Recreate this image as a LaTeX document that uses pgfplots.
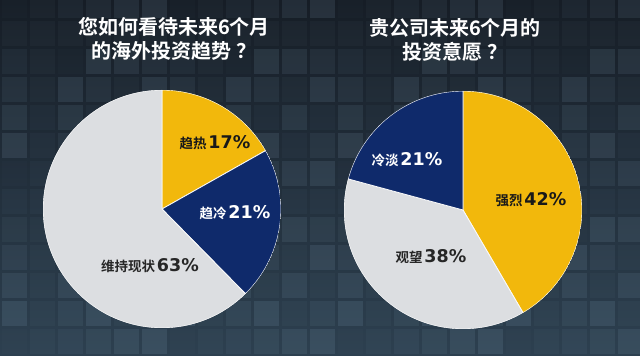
\documentclass[border=0pt]{standalone}
\usepackage{fontspec}
\usepackage{pgfplots}
\pgfplotsset{compat=1.18}
\usepgfplotslibrary{polar}
\setmainfont{Noto Sans CJK SC}[BoldFont={* Bold}]
\newfontfamily\num{DejaVu Sans}
\definecolor{gold}{HTML}{F2B80C}
\definecolor{navy}{HTML}{0F2A6B}
\definecolor{lgray}{HTML}{DCDEE1}
\definecolor{bgtop}{HTML}{161D26}
\definecolor{bgbot}{HTML}{2D4050}
\definecolor{tile}{HTML}{9CC0D8}
\newcommand{\lab}[3]{{\fontsize{13.5}{15}\selectfont\bfseries #1}\,{\num\bfseries\fontsize{17.5}{20}\selectfont #2\%}}
\begin{document}
\begin{tikzpicture}[x=1pt,y=1pt]
\useasboundingbox (0,0) rectangle (640,356);
\shade[top color=bgtop, bottom color=bgbot] (0,0) rectangle (640,356);
% mosaic tiles (background decoration)
\foreach \i in {0,...,22}{
  \foreach \j in {0,...,12}{
    \pgfmathtruncatemacro{\s}{mod(\i*7+\j*11+\i*\j,6)}
    \pgfmathsetmacro{\op}{0.02+0.02*\s}
    \fill[tile, opacity=\op] (\i*28+2,\j*28+2) rectangle ++(25,25);
  }
}
% data (percent)
\def\La{17}\def\Lb{21}\def\Lc{63}
\def\Ra{42}\def\Rb{38}\def\Rc{21}
\pgfmathsetmacro{\Lt}{\La+\Lb+\Lc}
\pgfmathsetmacro{\LA}{90-\La/\Lt*360}
\pgfmathsetmacro{\LB}{\LA-\Lb/\Lt*360}
\pgfmathsetmacro{\Rt}{\Ra+\Rb+\Rc}
\pgfmathsetmacro{\RA}{90-\Ra/\Rt*360}
\pgfmathsetmacro{\RB}{\RA-\Rb/\Rt*360}
\begin{polaraxis}[at={(162pt,147pt)}, anchor=origin, width=238pt, height=238pt,
  scale only axis, hide axis, xmin=0, xmax=360, ymin=0, ymax=1]
\addplot[fill=gold, draw=white!85!lgray, line width=0.8pt, domain=\LA:90, samples=60] {1} -- (axis cs:0,0) -- cycle;
\addplot[fill=navy, draw=white!85!lgray, line width=0.8pt, domain=\LB:\LA, samples=60] {1} -- (axis cs:0,0) -- cycle;
\addplot[fill=lgray, draw=white!85!lgray, line width=0.8pt, domain=-270:\LB, samples=150] {1} -- (axis cs:0,0) -- cycle;
\end{polaraxis}
\begin{polaraxis}[at={(463pt,146pt)}, anchor=origin, width=238pt, height=238pt,
  scale only axis, hide axis, xmin=0, xmax=360, ymin=0, ymax=1]
\addplot[fill=gold, draw=white!85!lgray, line width=0.8pt, domain=\RA:90, samples=100] {1} -- (axis cs:0,0) -- cycle;
\addplot[fill=lgray, draw=white!85!lgray, line width=0.8pt, domain=\RB:\RA, samples=100] {1} -- (axis cs:0,0) -- cycle;
\addplot[fill=navy, draw=white!85!lgray, line width=0.8pt, domain=-270:\RB, samples=60] {1} -- (axis cs:0,0) -- cycle;
\end{polaraxis}
% labels
\node[text=black!90] at (215,213) {\lab{趋热}{17}{}};
\node[text=white] at (235,143) {\lab{趋冷}{21}{}};
\node[text=black!85] at (150,90) {\lab{维持现状}{63}{}};
\node[text=white] at (407,196) {\lab{冷淡}{21}{}};
\node[text=black!90] at (531,156) {\lab{强烈}{42}{}};
\node[text=black!85] at (431,99) {\lab{观望}{38}{}};
% titles
\node[text=white, align=center, font=\fontsize{20}{24}\selectfont\bfseries] at (174,317) {您如何看待未来6个月\\的海外投资趋势 ？};
\node[text=white, align=center, font=\fontsize{20}{24}\selectfont\bfseries] at (455,316) {贵公司未来6个月的\\投资意愿 ？};
\end{tikzpicture}
\end{document}
